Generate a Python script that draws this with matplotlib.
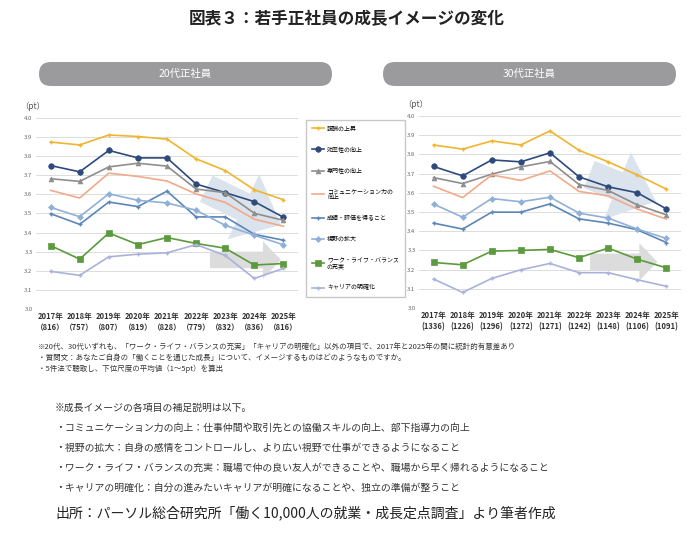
import matplotlib.pyplot as plt
from matplotlib.patches import FancyBboxPatch
import numpy as np

plt.rcParams['font.family'] = ['Noto Sans CJK JP', 'DejaVu Sans']

# years and sample sizes
years = ['2017年', '2018年', '2019年', '2020年', '2021年', '2022年', '2023年', '2024年', '2025年']
n_20s = [816, 757, 807, 819, 828, 779, 832, 836, 816]
n_30s = [1336, 1226, 1296, 1272, 1271, 1242, 1148, 1106, 1091]

labels = ['報酬の上昇', '効率性の向上', '専門性の向上', 'コミュニケーション力の\n向上',
          '成績・評価を得ること', '視野の拡大', 'ワーク・ライフ・バランス\nの充実', 'キャリアの明確化']

# 20代正社員 (pt)
reward_20 = [3.874, 3.859, 3.911, 3.903, 3.889, 3.786, 3.725, 3.624, 3.572]
effic_20 = [3.751, 3.718, 3.830, 3.791, 3.791, 3.654, 3.609, 3.562, 3.480]
expert_20 = [3.682, 3.668, 3.744, 3.763, 3.748, 3.628, 3.609, 3.501, 3.464]
comm_20 = [3.621, 3.581, 3.711, 3.694, 3.670, 3.602, 3.558, 3.470, 3.433]
evalu_20 = [3.499, 3.443, 3.560, 3.536, 3.617, 3.482, 3.482, 3.391, 3.360]
view_20 = [3.532, 3.483, 3.603, 3.569, 3.555, 3.517, 3.438, 3.386, 3.336]
wlb_20 = [3.332, 3.261, 3.398, 3.337, 3.374, 3.343, 3.318, 3.230, 3.238]
career_20 = [3.197, 3.176, 3.273, 3.287, 3.294, 3.337, 3.280, 3.160, 3.212]

# 30代正社員 (pt)
reward_30 = [3.849, 3.827, 3.870, 3.849, 3.922, 3.821, 3.761, 3.693, 3.619]
effic_30 = [3.737, 3.688, 3.771, 3.761, 3.808, 3.683, 3.631, 3.600, 3.516]
expert_30 = [3.679, 3.648, 3.697, 3.735, 3.763, 3.643, 3.612, 3.537, 3.485]
comm_30 = [3.634, 3.575, 3.693, 3.664, 3.714, 3.607, 3.584, 3.515, 3.463]
evalu_30 = [3.442, 3.411, 3.499, 3.499, 3.542, 3.464, 3.442, 3.407, 3.341]
view_30 = [3.541, 3.473, 3.570, 3.553, 3.577, 3.494, 3.468, 3.411, 3.362]
wlb_30 = [3.237, 3.225, 3.296, 3.300, 3.305, 3.262, 3.312, 3.254, 3.209]
career_30 = [3.151, 3.081, 3.154, 3.199, 3.232, 3.184, 3.184, 3.147, 3.113]

# style per series: color, marker, markersize
styles = [
    ('#efb52e', '+', 3),
    ('#2e4a7d', 'o', 4),
    ('#8e8e8e', '^', 3.5),
    ('#f2a98a', '', 0),
    ('#5b86b8', '+', 3),
    ('#90b0d8', 'D', 3),
    ('#5b9a3d', 's', 4),
    ('#a8b2dc', '+', 3),
]

data_20 = [reward_20, effic_20, expert_20, comm_20, evalu_20, view_20, wlb_20, career_20]
data_30 = [reward_30, effic_30, expert_30, comm_30, evalu_30, view_30, wlb_30, career_30]

fig = plt.figure(figsize=(6.94, 5.38), dpi=100)
ax1 = fig.add_axes([0.0519, 0.4257, 0.3775, 0.355])
ax2 = fig.add_axes([0.6037, 0.4275, 0.3775, 0.357])


def draw_panel(ax, series, counts, blue_arrow, gray_arrow, full_paren):
    x = np.arange(len(years))
    # background arrows
    ax.annotate('', xy=blue_arrow[1], xytext=blue_arrow[0], xycoords='axes fraction',
                arrowprops=dict(arrowstyle='simple,head_width=52,head_length=30,tail_width=21',
                                mutation_scale=1, fc='#dbe3ed', ec='none',
                                shrinkA=0, shrinkB=0), zorder=1)
    ax.annotate('', xy=gray_arrow[1], xytext=gray_arrow[0], xycoords='axes fraction',
                arrowprops=dict(arrowstyle='simple,head_width=27,head_length=13,tail_width=12',
                                mutation_scale=1, fc='#dcdcdc', ec='none',
                                shrinkA=0, shrinkB=0), zorder=1)
    handles = []
    for vals, (c, m, ms) in zip(series, styles):
        h, = ax.plot(x, vals, color=c, marker=m if m else None, markersize=ms,
                     markeredgewidth=1 if m == '+' else 0.5, linewidth=1.2, zorder=3)
        handles.append(h)
    ax.set_xlim(-0.5, 8.5)
    ax.set_ylim(3.0, 4.0)
    ax.set_yticks(np.arange(3.0, 4.01, 0.1))
    ax.set_yticklabels([f'{v:.1f}' for v in np.arange(3.0, 4.01, 0.1)],
                       fontsize=4.3, color='#666666')
    if full_paren:
        xl = [f'{y}\n（{n}）' for y, n in zip(years, counts)]
    else:
        xl = [f'{y}\n({n})' for y, n in zip(years, counts)]
    ax.set_xticks(x)
    ax.set_xticklabels(xl, fontsize=5.5, fontweight='bold', color='#333333', linespacing=1.25)
    ax.tick_params(length=0, pad=2.5)
    ax.grid(axis='y', color='#dcdcdc', linewidth=0.7)
    ax.set_axisbelow(True)
    for s in ax.spines.values():
        s.set_visible(False)
    ax.text(-0.06, 1.035, '（pt）', transform=ax.transAxes, fontsize=6, color='#555555',
            ha='left', va='bottom')
    return handles


h = draw_panel(ax1, data_20, n_20s,
               ((0.650, 0.630), (0.935, 0.440)), ((0.664, 0.257), (0.935, 0.257)), True)
draw_panel(ax2, data_30, n_30s,
           ((0.650, 0.695), (0.905, 0.555)), ((0.653, 0.240), (0.910, 0.240)), False)

fig.legend(h, labels, loc='upper left', bbox_to_anchor=(0.441, 0.777), fontsize=4.3,
           frameon=True, fancybox=False, edgecolor='#c8c8c8', framealpha=1,
           labelspacing=2.55, handlelength=2.0, handletextpad=0.5, borderpad=1.0,
           borderaxespad=0)

# title
fig.text(0.5, 1 - 19 / 538, '図表３：若手正社員の成長イメージの変化', ha='center', va='center',
         fontsize=12, fontweight='bold', color='#222222')

# panel header pills (inches)
for x0, x1, txt in [(0.39, 3.32, '20代正社員'), (3.83, 6.76, '30代正社員')]:
    pill = FancyBboxPatch((x0, 4.52), x1 - x0, 0.24, boxstyle='round,pad=0,rounding_size=0.12',
                          transform=fig.dpi_scale_trans, fc='#9b9b9d', ec='none')
    fig.patches.append(pill)
    fig.text((x0 + x1) / 2 / 6.94, 4.64 / 5.38, txt, ha='center', va='center',
             fontsize=7.5, color='white')

# notes under the left chart
notes = ['※20代、30代いずれも、「ワーク・ライフ・バランスの充実」「キャリアの明確化」以外の項目で、2017年と2025年の間に統計的有意差あり',
         '・質問文：あなたご自身の「働くことを通じた成長」について、イメージするものはどのようなものですか。',
         '・5件法で聴取し、下位尺度の平均値（1～5pt）を算出']
for i, t in enumerate(notes):
    fig.text(38 / 694, 1 - (347 + 11 * i) / 538, t, ha='left', va='center',
             fontsize=5.4, color='#333333')

# supplementary explanations
supp = ['※成長イメージの各項目の補足説明は以下。',
        '・コミュニケーション力の向上：仕事仲間や取引先との協働スキルの向上、部下指導力の向上',
        '・視野の拡大：自身の感情をコントロールし、より広い視野で仕事ができるようになること',
        '・ワーク・ライフ・バランスの充実：職場で仲の良い友人ができることや、職場から早く帰れるようになること',
        '・キャリアの明確化：自分の進みたいキャリアが明確になることや、独立の準備が整うこと']
for i, t in enumerate(supp):
    fig.text(55 / 694, 1 - (408 + 20 * i) / 538, t, ha='left', va='center',
             fontsize=7.1, color='#333333')

fig.text(55 / 694, 1 - 513 / 538, '出所：パーソル総合研究所「働く10,000人の就業・成長定点調査」より筆者作成',
         ha='left', va='center', fontsize=10, color='#222222')

fig.savefig('out.png', dpi=100)
